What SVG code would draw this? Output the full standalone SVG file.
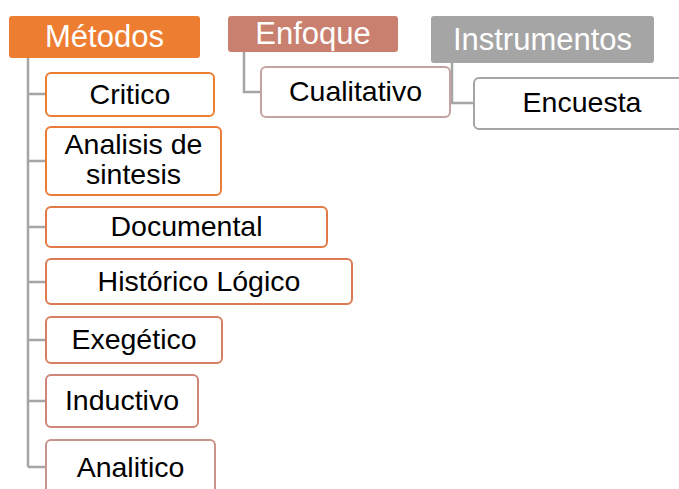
<svg xmlns="http://www.w3.org/2000/svg" width="679" height="489" viewBox="0 0 679 489">
<style>
text{font-family:"Liberation Sans",Arial,sans-serif;text-anchor:middle}
.h{font-size:31px;fill:#fff}
.c{font-size:28.5px;fill:#000}
.box{fill:#fff;stroke-width:2}
.con{fill:none;stroke:#A5A5A5;stroke-width:2.5}
</style>
<rect width="679" height="489" fill="#fff"/>
<g id="connectors">
<path class="con" d="M28 58V467M28 94H46M28 161H46M28 227H46M28 282H46M28 340H46M28 401H46M28 467H46"/>
<path class="con" d="M244 52V92H261" stroke="#B8A0A0"/>
<path class="con" d="M452 63V103H474"/>
</g>
<g id="metodos"><rect x="9" y="16" width="191" height="42" rx="3" fill="#ED7D31"/><text class="h" x="104.5" y="47">Métodos</text></g>
<g id="critico"><rect class="box" x="46" y="73" width="168" height="43" rx="5" stroke="#ED7D31"/><text class="c" x="130" y="104">Critico</text></g>
<g id="analisis"><rect class="box" x="46" y="127" width="175" height="68" rx="5" stroke="#EA7B38"/><text class="c" x="133.5" y="154">Analisis de</text><text class="c" x="133.5" y="184">sintesis</text></g>
<g id="documental"><rect class="box" x="46" y="207" width="281" height="40" rx="5" stroke="#E27A45"/><text class="c" x="186.5" y="236">Documental</text></g>
<g id="historico"><rect class="box" x="46" y="259" width="306" height="45" rx="5" stroke="#DB7B52"/><text class="c" x="199" y="291">Histórico Lógico</text></g>
<g id="exegetico"><rect class="box" x="46" y="317" width="176" height="46" rx="5" stroke="#D67F64"/><text class="c" x="134" y="349">Exegético</text></g>
<g id="inductivo"><rect class="box" x="46" y="375" width="152" height="52" rx="5" stroke="#CF8677"/><text class="c" x="122" y="410">Inductivo</text></g>
<g id="analitico"><rect class="box" x="46" y="440" width="169" height="56" rx="5" stroke="#C8948C"/><text class="c" x="130.5" y="477">Analitico</text></g>
<g id="enfoque"><rect x="228" y="16" width="170" height="36" rx="3" fill="#C9806F"/><text class="h" x="313" y="44">Enfoque</text></g>
<g id="cualitativo"><rect class="box" x="261" y="67" width="189" height="50" rx="5" stroke="#C3A4A3"/><text class="c" x="355.5" y="101">Cualitativo</text></g>
<g id="instrumentos"><rect x="431" y="16" width="223" height="47" rx="3" fill="#A5A5A5"/><text class="h" x="542.5" y="50">Instrumentos</text></g>
<g id="encuesta"><rect class="box" x="474" y="78" width="220" height="51" rx="5" stroke="#A5A5A5"/><text class="c" x="582" y="112">Encuesta</text></g>
</svg>
